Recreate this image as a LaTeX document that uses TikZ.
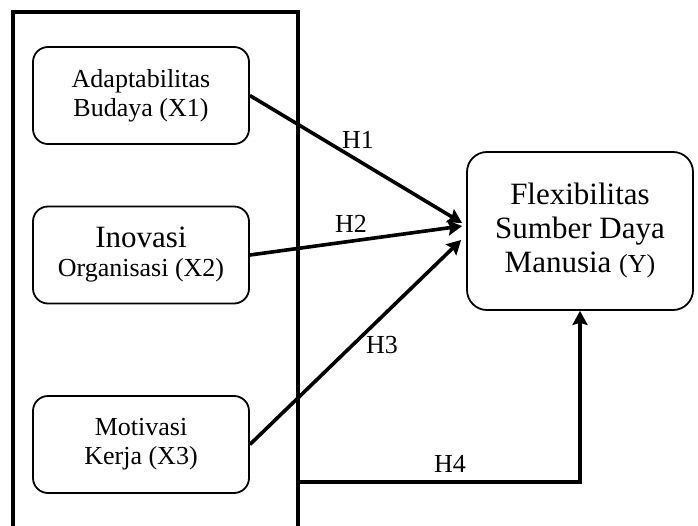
\documentclass[tikz,border=0pt]{standalone}
\usepackage{fontspec}
\setmainfont{Liberation Serif}
\usetikzlibrary{arrows.meta,calc}
\begin{document}
\begin{tikzpicture}[x=1pt,y=-1pt,
  varbox/.style={draw, line width=1.8pt, rounded corners=15pt, minimum width=216pt, minimum height=97pt, inner sep=0pt, align=center, font=\fontsize{26}{29}\selectfont},
  ybox/.style={draw, line width=1.8pt, rounded corners=20pt, minimum width=226pt, minimum height=158pt, inner sep=0pt, align=center, font=\fontsize{31}{34}\selectfont},
  link/.style={line width=3.6pt, -{Stealth[length=14pt,width=15pt,inset=2pt]}},
  hlabel/.style={inner sep=0pt, font=\fontsize{26}{29}\selectfont}]
\useasboundingbox (0,0) rectangle (698,526);
\draw[line width=4pt] (13,526) -- (13,12) -- (298,12) -- (298,526);
\coordinate (h4s) at (298,482);
\node[varbox] (x1) at (141,95.5) {Adaptabilitas\\Budaya (X1)};
\node[varbox] (x2) at (141,255) {{\fontsize{31}{34}\selectfont Inovasi}\\Organisasi (X2)};
\node[varbox] (x3) at (141,444.5) {Motivasi\\Kerja (X3)};
\node[ybox] (y) at (580,231) {Flexibilitas\\Sumber Daya\\Manusia {\fontsize{26}{29}\selectfont (Y)}};
\draw[link] (x1.east) -- ($(y.west)+(-4,-8)$);
\draw[link] (x2.east) -- ($(y.west)+(-4,-5)$);
\draw[link] (x3.east) -- ($(y.west)+(-5,9)$);
\draw[link] (h4s) -| (y.south);
\node[hlabel] (h1) at (358,140) {H1};
\node[hlabel] (h2) at (351,224) {H2};
\node[hlabel] (h3) at (382,345) {H3};
\node[hlabel] (h4) at (450,464) {H4};
\end{tikzpicture}
\end{document}
